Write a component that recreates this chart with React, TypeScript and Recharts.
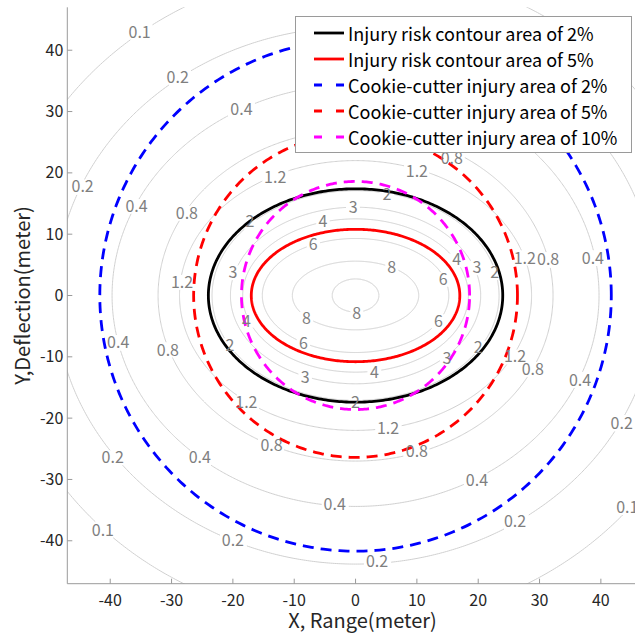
import React from 'react';
import { ComposedChart, Line, Scatter, XAxis, YAxis, Legend, Label } from 'recharts';

const FONT = "'Noto Sans CJK SC', 'Noto Sans', sans-serif";
const AXIS_COLOR = '#9a9a9a';
const TEXT_COLOR = '#262626';
const CONTOUR_COLOR = '#d0d0d0';
const CONTOUR_LABEL_COLOR = '#7f7f7f';

const CHART_W = 660;
const CHART_H = 634;
const PLOT_LEFT = 67.3;
const PLOT_TOP = 7.3;
const PLOT_RIGHT = 643.8;
const PLOT_BOTTOM = 583.7;

// ---- data ----
const axisDomain: [number, number] = [-47, 47];
const axisTicks = [-40, -30, -20, -10, 0, 10, 20, 30, 40];

// gray risk contours (semi-axes in meters)
const contourLevels = ['0.1', '0.2', '0.4', '0.8', '1.2', '2', '3', '4', '6', '8', '8'];
const contourSemiX = [58.6, 49.0, 39.7, 32.2, 28.7, 23.4, 20.4, 18.4, 15.2, 10.3, 3.8];
const contourSemiY = [53.5, 43.8, 34.4, 27.0, 22.0, 17.1, 14.4, 12.5, 9.3, 5.6, 2.7];

// inline label positions for each contour
const contourLabelX: number[][] = [
  [-35.2, -41.2, 44.3],
  [-29.0, -44.5, -39.6, -20.0, 3.5, 26.0, 43.4],
  [-18.6, -35.7, -38.7, -25.4, -3.4, 19.8, 36.6, 38.7],
  [-27.5, -30.6, -13.7, 10.0, 28.9, 31.4, 15.7],
  [-13.1, -28.3, -17.8, 5.3, 26.0, 27.6, 10.0],
  [-17.2, -20.5, 0.0, 20.0, 22.7, 5.1],
  [-20.0, -8.2, 14.9, 19.8, -0.4],
  [3.1, -17.8, 16.5, -5.3],
  [-6.9, 14.3, 13.5, -8.5],
  [5.9, -8.0],
  [0.2],
];
const contourLabelY: number[][] = [
  [42.9, -38.3, -34.5],
  [35.5, 17.7, -26.5, -39.9, -43.4, -36.9, -20.8],
  [30.3, 14.5, -7.7, -26.5, -34.1, -30.1, -13.8, 6.1],
  [13.4, -8.9, -24.4, -25.5, -12.1, 5.8, 22.4],
  [19.2, 2.2, -17.4, -21.7, -10.0, 6.1, 20.2],
  [12.0, -8.1, -17.5, -8.4, 3.7, 16.4],
  [3.7, -13.3, -10.2, 4.5, 14.3],
  [-12.5, -4.3, 5.8, 12.0],
  [8.3, 2.6, -4.2, -7.9],
  [4.5, -3.7],
  [-2.9],
];

// highlighted areas
const seriesNames = [
  'Injury risk contour area of 2%',
  'Injury risk contour area of 5%',
  'Cookie-cutter injury area of 2%',
  'Cookie-cutter injury area of 5%',
  'Cookie-cutter injury area of 10%',
];
const seriesSemiX = [24.0, 17.0, 41.7, 26.4, 18.6];
const seriesSemiY = [17.4, 10.8, 41.7, 26.4, 18.6];
const seriesColors = ['#000000', '#ff0000', '#0000ff', '#ff0000', '#ff00ff'];
const seriesDashed = [false, false, true, true, true];

// ---- geometry helpers ----
const PX_PER_UNIT = (PLOT_RIGHT - PLOT_LEFT) / (axisDomain[1] - axisDomain[0]);
const LABEL_FONT = 16;
const labelWidthPx = (s: string) =>
  [...s].reduce((w, c) => w + (c === '.' ? 0.25 : 0.5), 0) * LABEL_FONT;

type Hole = { x: number; y: number; hw: number; hh: number };

function ellipsePoints(a: number, b: number, n: number, holes: Hole[] = []) {
  const pts: { x: number; y: number | null }[] = [];
  for (let i = 0; i <= n; i++) {
    const t = (i / n) * 2 * Math.PI;
    const x = a * Math.cos(t);
    const y = b * Math.sin(t);
    const hidden = holes.some((h) => Math.abs(x - h.x) < h.hw && Math.abs(y - h.y) < h.hh);
    pts.push({ x, y: hidden ? null : y });
  }
  return pts;
}

const contourData = contourLevels.map((lv, i) => {
  const hw = (labelWidthPx(lv) / 2 + 2.5) / PX_PER_UNIT;
  const hh = 7 / PX_PER_UNIT;
  const holes = contourLabelX[i].map((x, j) => ({ x, y: contourLabelY[i][j], hw, hh }));
  return ellipsePoints(contourSemiX[i], contourSemiY[i], 900, holes);
});

const seriesData = seriesNames.map((_, i) => ellipsePoints(seriesSemiX[i], seriesSemiY[i], 400));

const labelData = contourLevels.flatMap((lv, i) =>
  contourLabelX[i].map((x, j) => ({ x, y: contourLabelY[i][j], text: lv }))
);

// ---- custom renderers ----
const LeftTick = (props: any) => {
  const { x, y, payload } = props;
  return (
    <g>
      <line x1={x} y1={y} x2={x + 5} y2={y} stroke={AXIS_COLOR} strokeWidth={1} />
      <text x={x - 4} y={y + 5.5} textAnchor="end" fontSize={16} fill={TEXT_COLOR} fontFamily={FONT}>
        {payload.value}
      </text>
    </g>
  );
};

const BottomTick = (props: any) => {
  const { x, y, payload } = props;
  return (
    <g>
      <line x1={x} y1={y} x2={x} y2={y - 5} stroke={AXIS_COLOR} strokeWidth={1} />
      <text x={x} y={y + 22.5} textAnchor="middle" fontSize={16} fill={TEXT_COLOR} fontFamily={FONT}>
        {payload.value}
      </text>
    </g>
  );
};

const TopTick = (props: any) => {
  const { x, y } = props;
  return <line x1={x} y1={y} x2={x} y2={y + 5} stroke={AXIS_COLOR} strokeWidth={1} />;
};

const ContourLabel = (props: any) => {
  const { cx, cy, payload } = props;
  if (cx == null || cy == null) return null;
  return (
    <text
      x={cx}
      y={cy + 5.5}
      textAnchor="middle"
      fontSize={LABEL_FONT}
      fill={CONTOUR_LABEL_COLOR}
      fontFamily={FONT}
    >
      {payload.text}
    </text>
  );
};

const LegendBox = () => (
  <div
    style={{
      boxSizing: 'border-box',
      width: 337,
      height: 137,
      border: `1px solid ${AXIS_COLOR}`,
      background: '#ffffff',
      position: 'relative',
      fontFamily: FONT,
      fontSize: 18,
      color: '#000000',
    }}
  >
    {seriesNames.map((name, i) => (
      <div
        key={name}
        style={{
          position: 'absolute',
          left: 0,
          top: 15.5 + i * 26.1 - 13,
          height: 26,
          display: 'flex',
          alignItems: 'center',
          whiteSpace: 'nowrap',
        }}
      >
        <svg width={52} height={26} style={{ display: 'block' }}>
          <line
            x1={18}
            x2={48}
            y1={13}
            y2={13}
            stroke={seriesColors[i]}
            strokeWidth={2.8}
            strokeDasharray={seriesDashed[i] ? '8 14' : undefined}
          />
        </svg>
        <span style={{ lineHeight: '26px' }}>{name}</span>
      </div>
    ))}
  </div>
);

export default function App() {
  return (
    <div
      style={{
        position: 'absolute',
        left: 0,
        top: 0,
        width: 635,
        height: 634,
        overflow: 'hidden',
        background: '#ffffff',
      }}
    >
      <ComposedChart
        width={CHART_W}
        height={CHART_H}
        margin={{ top: PLOT_TOP, right: CHART_W - PLOT_RIGHT, bottom: 0, left: 0 }}
      >
        <XAxis
          type="number"
          dataKey="x"
          domain={axisDomain}
          ticks={axisTicks}
          interval={0}
          allowDataOverflow
          height={CHART_H - PLOT_BOTTOM}
          tickSize={0}
          tickMargin={0}
          tickLine={false}
          tick={BottomTick}
          axisLine={{ stroke: AXIS_COLOR, strokeWidth: 1 }}
        >
          <Label
            content={(p: any) => {
              const vb = p.viewBox || {};
              return (
                <text
                  x={vb.x + vb.width / 2 + 7}
                  y={628}
                  textAnchor="middle"
                  fontSize={20}
                  fill={TEXT_COLOR}
                  fontFamily={FONT}
                >
                  X, Range(meter)
                </text>
              );
            }}
          />
        </XAxis>
        <XAxis
          xAxisId="top"
          orientation="top"
          type="number"
          dataKey="x"
          domain={axisDomain}
          ticks={axisTicks}
          interval={0}
          allowDataOverflow
          height={0}
          tickSize={0}
          tickMargin={0}
          tickLine={false}
          tick={TopTick}
          axisLine={{ stroke: AXIS_COLOR, strokeWidth: 1 }}
        />
        <YAxis
          type="number"
          dataKey="y"
          domain={axisDomain}
          ticks={axisTicks}
          interval={0}
          allowDataOverflow
          width={PLOT_LEFT}
          tickSize={0}
          tickMargin={0}
          tickLine={false}
          tick={LeftTick}
          axisLine={{ stroke: AXIS_COLOR, strokeWidth: 1 }}
        >
          <Label
            content={(p: any) => {
              const vb = p.viewBox || {};
              const cy = vb.y + vb.height / 2;
              return (
                <text
                  transform={`translate(30,${cy}) rotate(-90)`}
                  x={0}
                  y={0}
                  textAnchor="middle"
                  fontSize={20}
                  fill={TEXT_COLOR}
                  fontFamily={FONT}
                >
                  Y,Deflection(meter)
                </text>
              );
            }}
          />
        </YAxis>

        {contourData.map((d, i) => (
          <Line
            key={`c${i}`}
            data={d}
            dataKey="y"
            stroke={CONTOUR_COLOR}
            strokeWidth={1}
            dot={false}
            activeDot={false}
            legendType="none"
            isAnimationActive={false}
            connectNulls={false}
          />
        ))}

        {seriesData.map((d, i) => (
          <Line
            key={`s${i}`}
            name={seriesNames[i]}
            data={d}
            dataKey="y"
            stroke={seriesColors[i]}
            strokeWidth={2.8}
            strokeDasharray={seriesDashed[i] ? '11 7' : undefined}
            dot={false}
            activeDot={false}
            isAnimationActive={false}
          />
        ))}

        <Scatter
          data={labelData}
          dataKey="y"
          shape={ContourLabel}
          legendType="none"
          isAnimationActive={false}
        />

        <Legend
          layout="horizontal"
          verticalAlign="middle"
          align="center"
          wrapperStyle={{ left: 295, top: 16, width: 337, height: 137 }}
          content={() => <LegendBox />}
        />
      </ComposedChart>
    </div>
  );
}
